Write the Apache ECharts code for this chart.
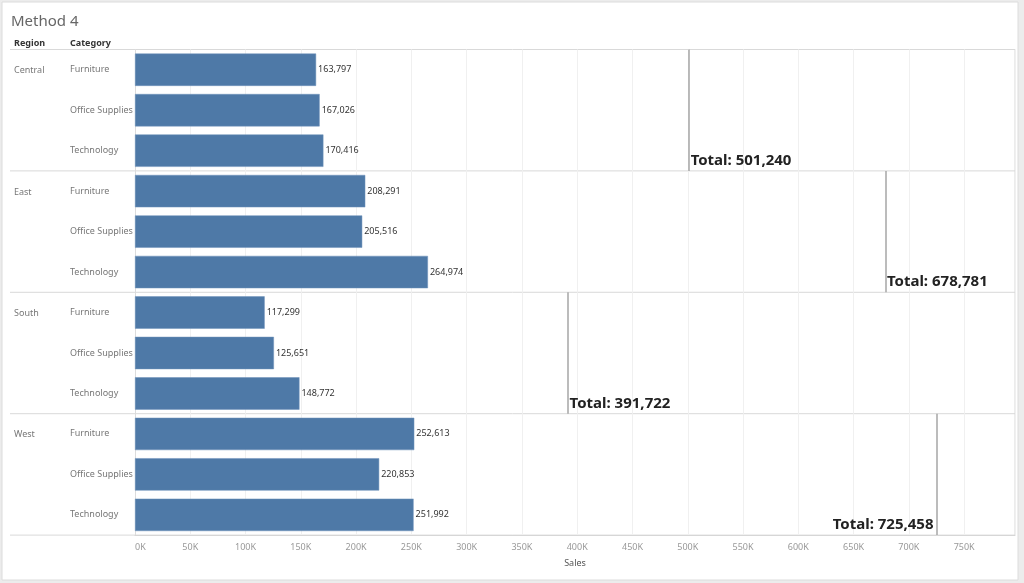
<!DOCTYPE html>
<html>
<head>
<meta charset="utf-8">
<title>Method 4</title>
<script src="https://cdn.jsdelivr.net/npm/echarts@6/dist/echarts.min.js"></script>
<style>
  html, body { margin: 0; padding: 0; background: #ececec; }
  #chart { width: 1024px; height: 583px; }
</style>
</head>
<body>
<div id="chart"></div>
<script>
// data
var regions = ['Central', 'East', 'South', 'West'];
var categories = ['Furniture', 'Office Supplies', 'Technology'];
var centralSales = [163797, 167026, 170416];
var eastSales = [208291, 205516, 264974];
var southSales = [117299, 125651, 148772];
var westSales = [252613, 220853, 251992];
var regionTotals = [501240, 678781, 391722, 725458];
var salesStep = 50000;
var salesMax = 796000;

var regionSales = [centralSales, eastSales, southSales, westSales];

// layout
var paneLeft = 135, paneRight = 1015, paneTop = 49.5, paneH = 121.4;
var font = '"Noto Sans", sans-serif';

function fmt(v) {
    return Math.round(v).toString().replace(/\B(?=(\d{3})+(?!\d))/g, ',');
}

var grids = [], xAxes = [], yAxes = [], series = [], graphics = [];

// white sheet with thin frame
graphics.push({
    type: 'rect', z: -10, silent: true,
    shape: { x: 2, y: 2, width: 1016, height: 578 },
    style: { fill: '#fff', stroke: '#dcdcdc', lineWidth: 1 }
});

regions.forEach(function (name, i) {
    var top = paneTop + i * paneH;
    var last = i === regions.length - 1;
    // label goes to the left of the line when it would not fit on the right
    var lineX = paneLeft + (paneRight - paneLeft) * regionTotals[i] / salesMax;
    var labelLeft = lineX + 110 > paneRight;
    grids.push({ left: paneLeft, width: paneRight - paneLeft, top: top, height: paneH });
    xAxes.push({
        type: 'value', gridIndex: i, min: 0, max: salesMax, interval: salesStep,
        axisLine: { show: last, lineStyle: { color: '#d6d6d6' } },
        axisTick: { show: false },
        splitLine: { show: true, lineStyle: { color: '#f0f0f0', width: 1 } },
        axisLabel: {
            show: last, color: '#999', fontSize: 9, fontFamily: font, margin: 8,
            alignMinLabel: 'left', showMaxLabel: false,
            formatter: function (v) { return v % salesStep === 0 ? (v / 1000) + 'K' : ''; }
        },
        name: last ? 'Sales' : '', nameLocation: 'middle', nameGap: 24,
        nameTextStyle: { color: '#555', fontSize: 9, fontFamily: font }
    });
    yAxes.push({
        type: 'category', gridIndex: i, data: categories, inverse: true,
        axisTick: { show: false },
        axisLine: { show: true, lineStyle: { color: '#dcdcdc' } },
        axisLabel: { align: 'left', margin: 65, color: '#777', fontSize: 9, fontFamily: font }
    });
    series.push({
        name: name, type: 'bar', xAxisIndex: i, yAxisIndex: i,
        data: regionSales[i],
        barCategoryGap: '20%',
        itemStyle: { color: '#4e79a7', borderColor: '#6f93bb', borderWidth: 0.5 },
        label: {
            show: true, position: 'right', distance: 2, color: '#333', fontSize: 9, fontFamily: font,
            formatter: function (p) { return fmt(p.value); }
        },
        emphasis: { disabled: true },
        markLine: {
            silent: true, symbol: ['none', 'none'],
            lineStyle: { color: '#a6a6a6', width: 1.5, type: 'solid' },
            label: { show: false },
            data: [{ xAxis: regionTotals[i] }]
        },
        markPoint: {
            silent: true, symbol: 'rect', symbolSize: [1, 1],
            itemStyle: { color: 'transparent' },
            label: {
                show: true, position: labelLeft ? 'left' : 'right', distance: labelLeft ? 3 : 1,
                offset: [0, 10],
                color: '#222', fontSize: 15, fontWeight: 'bold', fontFamily: font,
                formatter: 'Total: ' + fmt(regionTotals[i])
            },
            data: [{ coord: [regionTotals[i], categories[categories.length - 1]] }]
        }
    });

    graphics.push({
        type: 'text', silent: true, x: 14, y: top + paneH / categories.length / 2 + 1,
        style: { text: name, fill: '#777', fontSize: 9, fontFamily: font, verticalAlign: 'middle' }
    });
});

// pane separators and right border
for (var k = 0; k <= regions.length; k++) {
    var y = paneTop + k * paneH;
    graphics.push({
        type: 'line', silent: true,
        shape: { x1: 10, y1: y, x2: paneRight, y2: y },
        style: { stroke: '#d9d9d9', lineWidth: 1 }
    });
}
graphics.push({
    type: 'line', silent: true,
    shape: { x1: paneRight, y1: paneTop, x2: paneRight, y2: paneTop + regions.length * paneH },
    style: { stroke: '#d9d9d9', lineWidth: 1 }
});

// column headers
graphics.push({
    type: 'text', silent: true, x: 14, y: 43,
    style: { text: 'Region', fill: '#333', fontSize: 9, fontWeight: 'bold', fontFamily: font, verticalAlign: 'middle' }
});
graphics.push({
    type: 'text', silent: true, x: 70, y: 43,
    style: { text: 'Category', fill: '#333', fontSize: 9, fontWeight: 'bold', fontFamily: font, verticalAlign: 'middle' }
});

var myChart = echarts.init(document.getElementById('chart'));
myChart.setOption({
    animation: false,
    title: {
        text: 'Method 4', left: 6, top: 9,
        textStyle: { color: '#666', fontSize: 15, fontWeight: 'normal', fontFamily: font }
    },
    grid: grids,
    xAxis: xAxes,
    yAxis: yAxes,
    series: series,
    graphic: graphics
});
</script>
</body>
</html>
